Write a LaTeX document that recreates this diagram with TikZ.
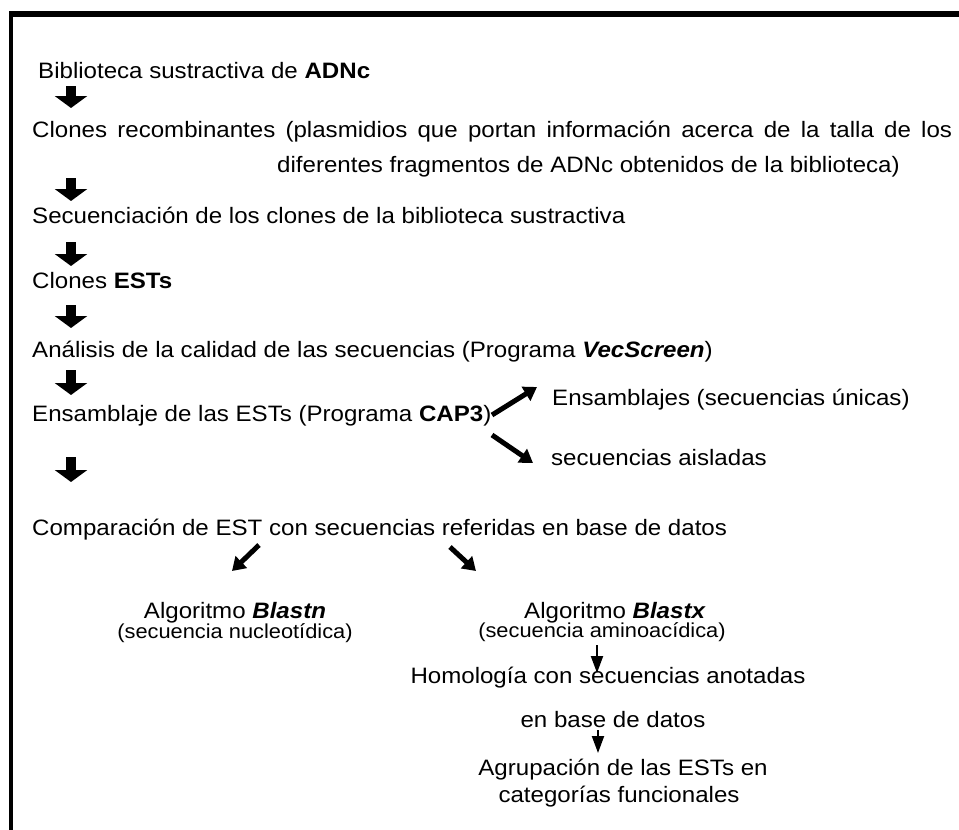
\documentclass[tikz,border=0pt]{standalone}
\usepackage{fontspec}
\setmainfont{Liberation Sans}[FakeStretch=1.08]
\usetikzlibrary{arrows.meta}
\begin{document}
\begin{tikzpicture}[x=1pt,y=-1pt,
  txt/.style={font=\fontsize{22.3}{26}\selectfont, inner sep=0pt, anchor=base west},
  ctxt/.style={font=\fontsize{22.3}{26}\selectfont, inner sep=0pt, anchor=base},
  stxt/.style={font=\fontsize{20.2}{24}\selectfont, inner sep=0pt, anchor=base},
  barrow/.style={line width=10pt, -{Triangle[width=32pt,length=12pt]}},
  darrow/.style={line width=5pt, -{Triangle[width=16pt,length=13pt]}},
  tarrow/.style={line width=2pt, -{Triangle[width=12pt,length=17pt]}},
  frame/.style={fill=black}
]
\useasboundingbox (0,0) rectangle (959,830);
% frame
\fill[frame] (9,11) rectangle (959,17);
\fill[frame] (9,11) rectangle (13,830);

% main column texts
\node[txt] (bib) at (38,78) {Biblioteca sustractiva de \textbf{ADNc}};
\node[txt] (clo1) at (32,137) {\makebox[920pt][s]{Clones recombinantes (plasmidios que portan información acerca de la talla de los}};
\node[txt] (clo2) at (277,172) {diferentes fragmentos de ADNc obtenidos de la biblioteca)};
\node[txt] (sec) at (32,223) {Secuenciación de los clones de la biblioteca sustractiva};
\node[txt] (est) at (32,288) {Clones \textbf{ESTs}};
\node[txt] (ana) at (32,357) {Análisis de la calidad de las secuencias (Programa \textbf{\textit{VecScreen}})};
\node[txt] (ens) at (32,421) {Ensamblaje de las ESTs (Programa \textbf{CAP3})};
\node[txt] (uni) at (552,405) {Ensamblajes (secuencias únicas)};
\node[txt] (ais) at (551,465) {secuencias aisladas};
\node[txt] (com) at (32,535) {Comparación de EST con secuencias referidas en base de datos};

% branches
\node[ctxt] (bn) at (235,618) {Algoritmo \textbf{\textit{Blastn}}};
\node[stxt] (bnsub) at (235,638) {(secuencia nucleotídica)};
\node[ctxt] (bx) at (615,618) {Algoritmo \textbf{\textit{Blastx}}};
\node[stxt] (bxsub) at (602,637) {(secuencia aminoacídica)};
\node[ctxt] (hom1) at (608,683) {Homología con secuencias anotadas};
\node[ctxt] (hom2) at (613,727) {en base de datos};
\node[ctxt] (agr1) at (623,775) {Agrupación de las ESTs en};
\node[ctxt] (agr2) at (619,802) {categorías funcionales};

% block arrows (left column)
\coordinate (a1s) at (71,86);  \coordinate (a1e) at (71,108);
\coordinate (a2s) at (71,178); \coordinate (a2e) at (71,201);
\coordinate (a3s) at (71,242); \coordinate (a3e) at (71,266);
\coordinate (a4s) at (71,305); \coordinate (a4e) at (71,328);
\coordinate (a5s) at (71,370); \coordinate (a5e) at (71,395);
\coordinate (a6s) at (71,457); \coordinate (a6e) at (71,482);
\foreach \i in {1,...,6} {\draw[barrow] (a\i s) -- (a\i e);}

% CAP3 branches
\coordinate (c1s) at (492,415); \coordinate (c1e) at (537,387);
\coordinate (c2s) at (492,435); \coordinate (c2e) at (533,463);
\draw[darrow] (c1s) -- (c1e);
\draw[darrow] (c2s) -- (c2e);

% comparison branches
\coordinate (d1s) at (259,545); \coordinate (d1e) at (232,571);
\coordinate (d2s) at (450,547); \coordinate (d2e) at (476,571);
\draw[darrow] (d1s) -- (d1e);
\draw[darrow] (d2s) -- (d2e);

% thin arrows
\coordinate (t1s) at (597,645); \coordinate (t1e) at (597,673);
\coordinate (t2s) at (598,730); \coordinate (t2e) at (598,753);
\draw[tarrow] (t1s) -- (t1e);
\draw[tarrow] (t2s) -- (t2e);
\end{tikzpicture}
\end{document}
